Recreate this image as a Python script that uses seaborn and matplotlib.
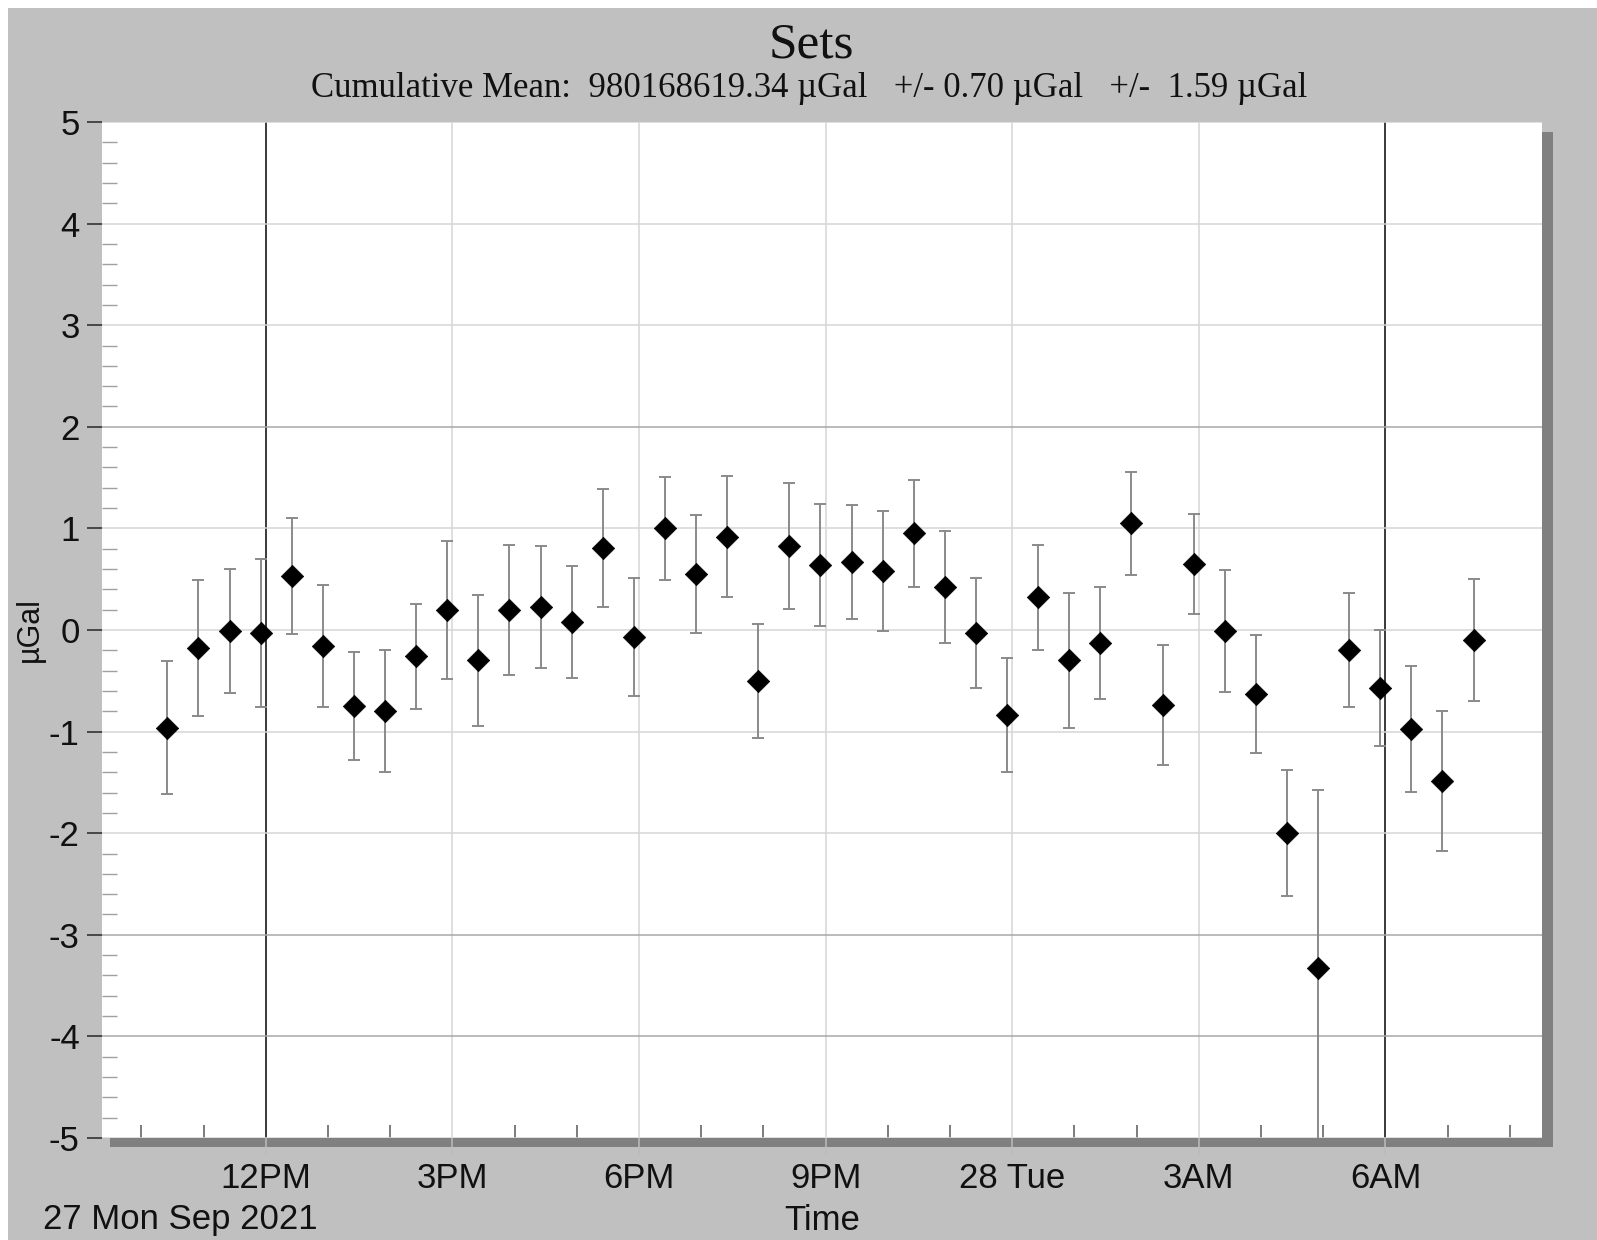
import matplotlib
matplotlib.use("Agg")
import matplotlib.pyplot as plt
import matplotlib.dates as mdates
from matplotlib.patches import Rectangle
from matplotlib.ticker import MultipleLocator
import pandas as pd
import seaborn as sns

# one gravity set every 30 minutes
set_times = [
    "2021-09-27 10:25", "2021-09-27 10:55", "2021-09-27 11:25", "2021-09-27 11:55",
    "2021-09-27 12:25", "2021-09-27 12:55", "2021-09-27 13:25", "2021-09-27 13:55",
    "2021-09-27 14:25", "2021-09-27 14:55", "2021-09-27 15:25", "2021-09-27 15:55",
    "2021-09-27 16:25", "2021-09-27 16:55", "2021-09-27 17:25", "2021-09-27 17:55",
    "2021-09-27 18:25", "2021-09-27 18:55", "2021-09-27 19:25", "2021-09-27 19:55",
    "2021-09-27 20:25", "2021-09-27 20:55", "2021-09-27 21:25", "2021-09-27 21:55",
    "2021-09-27 22:25", "2021-09-27 22:55", "2021-09-27 23:25", "2021-09-27 23:55",
    "2021-09-28 00:25", "2021-09-28 00:55", "2021-09-28 01:25", "2021-09-28 01:55",
    "2021-09-28 02:25", "2021-09-28 02:55", "2021-09-28 03:25", "2021-09-28 03:55",
    "2021-09-28 04:25", "2021-09-28 04:55", "2021-09-28 05:25", "2021-09-28 05:55",
    "2021-09-28 06:25", "2021-09-28 06:55", "2021-09-28 07:25",
]
# set means relative to the cumulative mean (µGal)
set_values = [
    -0.96, -0.18, -0.01, -0.03, 0.53, -0.16, -0.75, -0.80, -0.26, 0.20,
    -0.30, 0.20, 0.23, 0.08, 0.81, -0.07, 1.00, 0.55, 0.92, -0.50,
    0.83, 0.64, 0.67, 0.58, 0.95, 0.42, -0.03, -0.84, 0.32, -0.30,
    -0.13, 1.05, -0.74, 0.65, -0.01, -0.63, -2.00, -3.33, -0.20, -0.57,
    -0.97, -1.49, -0.10,
]
set_errors = [
    0.65, 0.67, 0.61, 0.73, 0.57, 0.60, 0.53, 0.60, 0.52, 0.68,
    0.64, 0.64, 0.60, 0.55, 0.58, 0.58, 0.51, 0.58, 0.60, 0.56,
    0.62, 0.60, 0.56, 0.59, 0.53, 0.55, 0.54, 0.56, 0.52, 0.66,
    0.55, 0.51, 0.59, 0.49, 0.60, 0.58, 0.62, 1.76, 0.56, 0.57,
    0.62, 0.69, 0.60,
]

tick_times = ["2021-09-27 12:00", "2021-09-27 15:00", "2021-09-27 18:00",
              "2021-09-27 21:00", "2021-09-28 00:00", "2021-09-28 03:00",
              "2021-09-28 06:00"]
tick_labels = ["12PM", "3PM", "6PM", "9PM", "28 Tue", "3AM", "6AM"]
x_range = ["2021-09-27 09:22", "2021-09-28 08:31"]

title = "Sets"
subtitle = "Cumulative Mean:  980168619.34 \u00b5Gal   +/- 0.70 \u00b5Gal   +/-  1.59 \u00b5Gal"
date_label = "27 Mon Sep 2021"

sns.set_style("white")
plt.rcParams["font.family"] = ["Liberation Sans", "DejaVu Sans"]
plt.rcParams["axes.unicode_minus"] = False

W, H = 1597, 1240
fig = plt.figure(figsize=(W / 100, H / 100), dpi=100, facecolor="white")

# grey panel with white border on top/left, and the drop shadow of the plot
fig.add_artist(Rectangle((8 / W, 0), 1, 1 - 8 / H, transform=fig.transFigure,
                         facecolor="#c0c0c0", edgecolor="none", zorder=-3))
fig.add_artist(Rectangle((110 / W, 1 - 1147 / H), 1443 / W, 1015 / H,
                         transform=fig.transFigure, facecolor="#808080",
                         edgecolor="none", zorder=-2))

ax = fig.add_axes([102 / W, 1 - 1138 / H, 1440 / W, 1016 / H])
ax.set_facecolor("white")

df = pd.DataFrame({
    "time": pd.to_datetime(set_times),
    "value": set_values,
    "err": set_errors,
})

ax.errorbar(df["time"], df["value"], yerr=df["err"], fmt="none",
            ecolor="#8a8a8a", elinewidth=1.4, capsize=4.5, capthick=1.4,
            zorder=2)
sns.scatterplot(data=df, x="time", y="value", marker="D", s=130,
                color="black", edgecolor="black", linewidth=0.5,
                ax=ax, zorder=3, legend=False)

ax.set_xlim(pd.Timestamp(x_range[0]), pd.Timestamp(x_range[1]))
ax.set_ylim(-5, 5)
ax.set_xticks(pd.to_datetime(tick_times))
ax.set_xticklabels(tick_labels)
ax.xaxis.set_minor_locator(mdates.HourLocator())
ax.set_yticks(range(-5, 6))
ax.yaxis.set_minor_locator(MultipleLocator(0.2))

ax.grid(True, which="major", color="#d6d6d6", linewidth=1.1)
for line, v in zip(ax.get_ygridlines(), range(-5, 6)):
    if v in (2, -3, -4):
        line.set_color("#a8a8a8")
xgrid = ax.get_xgridlines()
for i in (0, len(tick_times) - 1):
    xgrid[i].set_color("#2a2a2a")
    xgrid[i].set_linewidth(1.3)

ax.tick_params(axis="x", which="major", direction="out", length=13, width=1.1,
               color="#bdbdbd", pad=4, labelsize=25, labelcolor="#111111",
               bottom=True)
ax.tick_params(axis="x", which="minor", direction="in", length=9.5, width=1.2,
               color="#666666", bottom=True)
ax.tick_params(axis="y", which="major", direction="out", length=11, width=1.2,
               color="#333333", pad=5, labelsize=25, labelcolor="#111111",
               left=True)
ax.tick_params(axis="y", which="minor", direction="in", length=11, width=1.0,
               color="#a0a0a0", left=True)
xticks = ax.xaxis.get_major_ticks()
for i in (0, len(tick_times) - 1):
    xticks[i].tick1line.set_color("#2a2a2a")

for sp in ax.spines.values():
    sp.set_visible(False)

ax.set_xlabel("Time", fontsize=25, color="#111111")
ax.xaxis.set_label_coords(0.5, -0.065)
ax.set_ylabel("\u00b5Gal", fontsize=22, color="#111111")
ax.yaxis.set_label_coords(-0.04, 0.5)

fig.text(811 / W, 1 - 58 / H, title, ha="center", va="baseline", fontsize=37,
         family=["Liberation Serif", "DejaVu Serif"], color="#111111")
fig.text(809 / W, 1 - 97 / H, subtitle, ha="center", va="baseline", fontsize=25,
         family=["Liberation Serif", "DejaVu Serif"], color="#111111")
fig.text(43 / W, 1 - 1229 / H, date_label, ha="left", va="baseline", fontsize=25,
         color="#111111")

fig.savefig("out.png", dpi=100)
